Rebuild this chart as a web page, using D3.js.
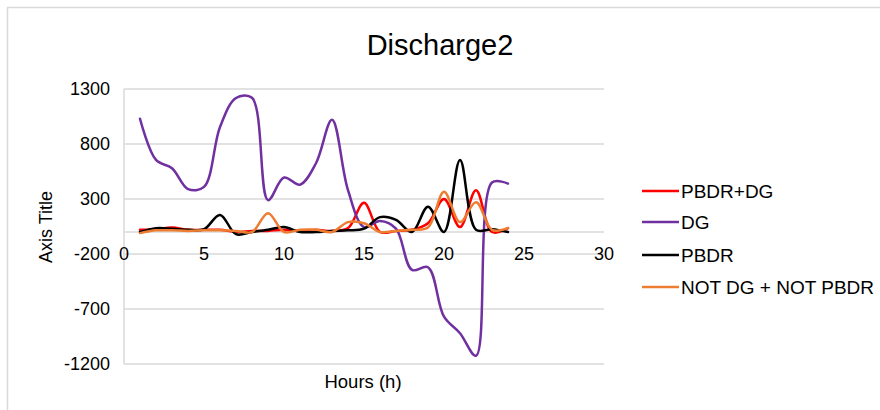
<!DOCTYPE html>
<html><head><meta charset="utf-8">
<script src="https://cdn.jsdelivr.net/npm/d3@7"></script>
<style>body{margin:0;background:#fff}svg{display:block;font-family:"Liberation Sans",Arial,sans-serif}</style>
</head><body>
<script>
const hours = [1,2,3,4,5,6,7,8,9,10,11,12,13,14,15,16,17,18,19,20,21,22,23,24];
const pbdrDG = [20,25,40,20,20,20,0,10,10,20,10,20,10,35,265,0,10,20,80,300,45,380,0,35];
const dg = [1030,655,580,390,410,955,1218,1220,290,495,430,625,1020,380,45,100,30,-345,-320,-770,-920,-1125,450,440];
const pbdr = [0,35,30,20,25,155,-20,0,20,45,0,0,10,15,30,135,110,0,230,0,655,20,25,0];
const notDgNotPbdr = [-10,15,15,10,15,15,10,0,170,0,20,20,0,90,80,0,10,20,40,365,90,270,20,35];
const seriesNames = ["PBDR+DG","DG","PBDR","NOT DG + NOT PBDR"];
const seriesColors = ["#ff0000","#7030a0","#000000","#ed7d31"];
const seriesData = [pbdrDG, dg, pbdr, notDgNotPbdr];
const yTicks = [1300,800,300,-200,-700,-1200];
const xTicks = [0,5,10,15,20,25,30];

const W=880,H=410;
const svg=d3.select("body").append("svg").attr("width",W).attr("height",H);
svg.append("rect").attr("x",7.5).attr("y",7.5).attr("width",W).attr("height",H).attr("fill","#fff").attr("stroke","#d9d9d9").attr("stroke-width",1.5);

const x=d3.scaleLinear().domain([0,30]).range([124,604]);
const y=d3.scaleLinear().domain([-1200,1300]).range([364,89]);

svg.append("g").selectAll("line").data(yTicks).join("line")
  .attr("x1",x(0)).attr("x2",x(30)).attr("y1",d=>y(d)).attr("y2",d=>y(d))
  .attr("stroke","#d9d9d9").attr("stroke-width",1.5);
svg.append("line").attr("x1",x(0)).attr("x2",x(30)).attr("y1",y(0)).attr("y2",y(0)).attr("stroke","#d9d9d9").attr("stroke-width",1.5);
svg.append("line").attr("x1",x(0)).attr("x2",x(0)).attr("y1",y(1300)).attr("y2",y(-1200)).attr("stroke","#d9d9d9").attr("stroke-width",1.5);

svg.append("g").selectAll("text").data(yTicks).join("text")
  .attr("x",110).attr("y",d=>y(d)).attr("dy","0.35em").attr("text-anchor","end")
  .attr("font-size",18).attr("fill","#000").text(d=>d);
svg.append("g").selectAll("text").data(xTicks).join("text")
  .attr("x",d=>x(d)).attr("y",260).attr("text-anchor","middle")
  .attr("font-size",18).attr("fill","#000").text(d=>d);

const line=d3.line().x((d,i)=>x(hours[i])).y(d=>y(d)).curve(d3.curveCatmullRom.alpha(0.5));
svg.append("g").selectAll("path").data(seriesData).join("path")
  .attr("d",d=>line(d)).attr("fill","none")
  .attr("stroke",(d,i)=>seriesColors[i]).attr("stroke-width",2.5).attr("stroke-linejoin","round").attr("stroke-linecap","round");

svg.append("text").attr("x",440).attr("y",55).attr("text-anchor","middle").attr("font-size",29).attr("fill","#000").text("Discharge2");
svg.append("text").attr("transform","translate(52,227) rotate(-90)").attr("text-anchor","middle").attr("font-size",18).text("Axis Title");
svg.append("text").attr("x",363).attr("y",388).attr("text-anchor","middle").attr("font-size",18.5).text("Hours (h)");

const lg=svg.append("g").selectAll("g").data(seriesNames).join("g")
  .attr("transform",(d,i)=>`translate(642,${[191,222,255,287][i]})`);
lg.append("line").attr("x1",0).attr("x2",37).attr("stroke",(d,i)=>seriesColors[i]).attr("stroke-width",2.5);
lg.append("text").attr("x",39).attr("dy","0.35em").attr("font-size",19).text(d=>d);
</script>
</body></html>
